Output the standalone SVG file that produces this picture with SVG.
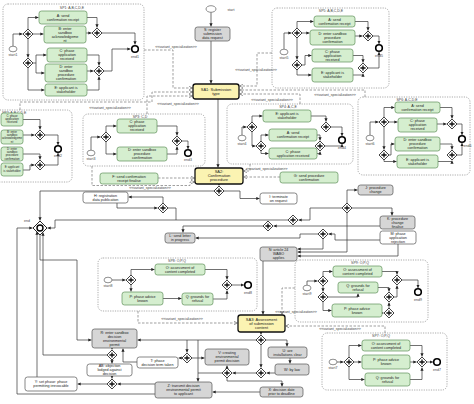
<svg xmlns="http://www.w3.org/2000/svg" width="474" height="404" viewBox="0 0 474 404">
<style>
text{font-family:"Liberation Sans",Arial,sans-serif;font-size:3.7px;fill:#222;text-anchor:middle}
.lb{font-size:3.5px;fill:#444}
.sm{font-size:2.8px}
.g rect{fill:#d5eecf;stroke:#5f8f5a;stroke-width:.7}
.gr rect{fill:#d6d6d6;stroke:#555;stroke-width:.7}
.w rect{fill:#fff;stroke:#555;stroke-width:.7}
.y rect{fill:#fbf3b2;stroke:#111;stroke-width:1.3}
.sp{fill:none;stroke:#888;stroke-width:.7;stroke-dasharray:1.2 1.2}
.fl{fill:none;stroke:#333;stroke-width:.7;marker-end:url(#ah)}
.fn{fill:none;stroke:#333;stroke-width:.7}
.vs{fill:none;stroke:#777;stroke-width:.7;stroke-dasharray:2.5 1.5;marker-end:url(#ao)}
.st{fill:#fff;stroke:#444;stroke-width:.6}
.en{fill:#fff;stroke:#000;stroke-width:1.6}
</style>
<defs>
<marker id="ah" viewBox="0 0 6 6" refX="6" refY="3" markerUnits="userSpaceOnUse" markerWidth="3.2" markerHeight="3.2" orient="auto"><path d="M0,0L6,3L0,6z" fill="#222"/></marker>
<marker id="ao" viewBox="0 0 6 6" refX="6" refY="3" markerUnits="userSpaceOnUse" markerWidth="3.5" markerHeight="3.5" orient="auto"><path d="M0,0L6,3L0,6" fill="none" stroke="#666" stroke-width="1"/></marker>
<g id="gw"><path d="M0,-5L5,0L0,5L-5,0Z" fill="#fff" stroke="#111" stroke-width=".8"/><path d="M-2.6,0H2.6M0,-2.6V2.6" stroke="#111" stroke-width="1.3"/></g>
</defs>
<rect width="474" height="404" fill="#fff"/>

<!-- containers -->
<g id="SP1"><rect class="sp" x="3" y="4" width="141" height="96" rx="5"/><text class="lb" x="72" y="9">SP1: A,B,C,D,E</text></g>
<g id="SP5"><rect class="sp" x="272" y="8" width="117" height="80" rx="5"/><text class="lb" x="331" y="11.8">SP5: A,B,C,D,E</text></g>
<g id="SP2"><rect class="sp" x="-10" y="110" width="82" height="72" rx="5"/><text class="lb" x="2" y="113.8" style="text-anchor:start">SP2: A,B,C,D,E</text></g>
<g id="SP3"><rect class="sp" x="83" y="114" width="122" height="52" rx="5"/><text class="lb" x="140" y="118">SP3: C,D</text></g>
<g id="SP4"><rect class="sp" x="227" y="104" width="126" height="60" rx="5"/><text class="lb" x="288" y="107.8">SP4: A,C,E</text></g>
<g id="SP6"><rect class="sp" x="358" y="97" width="112" height="78" rx="5"/><text class="lb" x="407" y="100.6">SP6: A,C,D,E</text></g>
<g id="SP8"><rect class="sp" x="98" y="258" width="159" height="53" rx="5"/><text class="lb" x="177" y="261.7">SP8: O,P,Q</text></g>
<g id="SP9"><rect class="sp" x="295" y="260" width="133" height="62" rx="5"/><text class="lb" x="360" y="263.8">SP9: O,P,Q</text></g>
<g id="SP7"><rect class="sp" x="322" y="333" width="125" height="57" rx="5"/><text class="lb" x="381" y="336.8">SP7: O,P,Q</text></g>

<!-- connectors -->
<g id="connectors">
<!-- SP1 -->
<path class="fl" d="M13,46.2V34H22.5"/>
<path class="fl" d="M28,29V17.5H38.5"/>
<path class="fl" d="M33,34H43.5"/>
<path class="fl" d="M28,39V57.5"/>
<path class="fl" d="M33,63H36V55H46.5"/>
<path class="fl" d="M36,63V73H44.5"/>
<path class="fl" d="M28,68V90H44.5"/>
<path class="fl" d="M87,17.5H97V27.5"/>
<path class="fl" d="M86,33H91.5"/>
<path class="fl" d="M87,55H99V65.5"/>
<path class="fl" d="M87,71H93.5"/>
<path class="fl" d="M87,90H99V76.5"/>
<path class="fl" d="M102,33H135V44.5"/>
<path class="fl" d="M104,71H112V49H130.5"/>
<!-- SP5 -->
<path class="fl" d="M284,49V33H291.5"/>
<path class="fl" d="M297,28V21.5H313.5"/>
<path class="fl" d="M302,33H309.5"/>
<path class="fl" d="M297,38V59.5"/>
<path class="fl" d="M302,65H305V55.5H311.5"/>
<path class="fl" d="M297,70V75H311.5"/>
<path class="fl" d="M355,21.5H368V30.5"/>
<path class="fl" d="M355,36H362.5"/>
<path class="fl" d="M353,55.5H363V62.5"/>
<path class="fl" d="M353,75H363V73.5"/>
<path class="fl" d="M373,36H379V44"/>
<path class="fl" d="M368,68H379V52"/>
<!-- SP2 -->
<path class="fl" d="M23,119.5H40V129.5"/>
<path class="fl" d="M23,135H34.5"/>
<path class="fl" d="M23,154H40V159.5"/>
<path class="fl" d="M23,170H30V165H34.5"/>
<path class="fl" d="M45,135H58V145"/>
<path class="fl" d="M45,165H58V153"/>
<!-- SP3 -->
<path class="fl" d="M91,150.2V137H100.5"/>
<path class="fl" d="M106,132V126H116.5"/>
<path class="fl" d="M106,142V154H116.5"/>
<path class="fl" d="M157,126H177V135.5"/>
<path class="fl" d="M167,154H177V146.5"/>
<path class="fl" d="M182,141H188V149"/>
<!-- SP4 -->
<path class="fl" d="M242,135.2V127H246.5"/>
<path class="fl" d="M252,122V116H262.5"/>
<path class="fl" d="M252,132V146H255.5"/>
<path class="fl" d="M261,141V135H268.5"/>
<path class="fl" d="M261,151V153.5H268.5"/>
<path class="fl" d="M311,116H326V121.5"/>
<path class="fl" d="M317,135H320V140.5"/>
<path class="fl" d="M317,153.5H320V151.5"/>
<path class="fl" d="M331,127H342V136"/>
<path class="fl" d="M325,146H342V144"/>
<!-- SP6 -->
<path class="fl" d="M370,135.2V122H378.5"/>
<path class="fl" d="M384,117V107.5H394.5"/>
<path class="fl" d="M389,122H397.5"/>
<path class="fl" d="M384,127V149.5"/>
<path class="fl" d="M389,155H391V144H394.5"/>
<path class="fl" d="M384,160V161.5H396.5"/>
<path class="fl" d="M440,107.5H452V118.5"/>
<path class="fl" d="M437,124H446.5"/>
<path class="fl" d="M440,144H452V149.5"/>
<path class="fl" d="M438,161.5H452V160.5"/>
<path class="fl" d="M457,124H462V135"/>
<path class="fl" d="M457,155H462V143"/>
<!-- SP8 -->
<path class="fl" d="M112,280H125.5"/>
<path class="fl" d="M131,275V269.5H154.5"/>
<path class="fl" d="M131,285V291.5"/>
<path class="fl" d="M163,298.5H181.5"/>
<path class="fl" d="M213,299H227V290.5"/>
<path class="fl" d="M205,269.5H227V279.5"/>
<path class="fl" d="M232,285H244"/>
<!-- SP9 -->
<path class="fl" d="M307,285.2V281H317.5"/>
<path class="fl" d="M323,276V271.5H332.5"/>
<path class="fl" d="M323,286V291.5"/>
<path class="fl" d="M323,302V310.5H331.5"/>
<path class="fl" d="M328,297H358V293.5"/>
<path class="fl" d="M382,271.5H397V274.5"/>
<path class="fl" d="M378,287.5H389V291.5"/>
<path class="fl" d="M382,313H383.5"/>
<path class="fl" d="M389,308V302.5"/>
<path class="fl" d="M394,297H397V285.5"/>
<path class="fl" d="M402,280H418V288"/>
<!-- SP7 -->
<path class="fl" d="M337,362H343.5"/>
<path class="fl" d="M349,357V345.5H361.5"/>
<path class="fl" d="M354,362H361.5"/>
<path class="fl" d="M349,367V379.5H364.5"/>
<path class="fl" d="M410,345.5H422V356.5"/>
<path class="fl" d="M410,362H416.5"/>
<path class="fl" d="M410,379.5H422V367.5"/>
<path class="fl" d="M427,362H433"/>
<!-- main flow -->
<path class="fl" d="M211,12.4V26.5"/>
<path class="fl" d="M211,41V83.5"/>
<path class="fl" d="M218,99V167.5"/>
<path class="fl" d="M219,184V185.5"/>
<path class="fl" d="M214,191H40V220.5"/>
<path class="fl" d="M224,191H240V198.5H259.5"/>
<path class="fl" d="M163,203V197H128.5"/>
<path class="fl" d="M117,203V208H157.5"/>
<path class="fn" d="M168,208H176V220"/>
<path class="fl" d="M288,220H55V228H47.5"/>
<path class="fl" d="M342,208H310V220H298.5"/>
<path class="fl" d="M347,203V190H357.5"/>
<path class="fl" d="M352,208H392V215.5"/>
<path class="fl" d="M380,226H273.5"/>
<path class="fl" d="M263,226H183V232.5"/>
<path class="fl" d="M380,240H335V234H328.5"/>
<path class="fl" d="M318,234H300V238H195.5"/>
<path class="fl" d="M323,239V249H297.5"/>
<path class="fl" d="M347,213V252H297.5"/>
<path class="fl" d="M398,244V256H297.5"/>
<path class="fl" d="M263,261V314.5"/>
<path class="fl" d="M261,332V334.5"/>
<path class="fl" d="M256,340H137.5"/>
<path class="fl" d="M198,340V381.5"/>
<path class="fl" d="M187,340V352.5"/>
<path class="fl" d="M182,358H178.5"/>
<path class="fl" d="M192,358H204.5"/>
<path class="fl" d="M266,340H287V346.5"/>
<path class="fl" d="M290,358V363.5"/>
<path class="fl" d="M275,373H266.5"/>
<path class="fl" d="M261,345V367.5"/>
<path class="fl" d="M256,373H232.5"/>
<path class="fl" d="M227,368V365.5"/>
<path class="fl" d="M227,378V381H282V386.5"/>
<path class="fn" d="M222,373H198"/>
<path class="fl" d="M260,392H212.5"/>
<path class="fl" d="M155,384H117.5"/>
<path class="fl" d="M107,384H77.5"/>
<path class="fl" d="M112,376V378.5"/>
<path class="fl" d="M112,360V363.5"/>
<path class="fl" d="M112,348V349.5"/>
<path class="fl" d="M137,362H123V348.5"/>
<path class="fl" d="M107,355H43V232.5"/>
<path class="fl" d="M37,377V231.5"/>
<path class="fl" d="M40,235V260H77V340H91.5"/>
<path class="fl" d="M155,394H17V228H32.5"/>
<!-- variant specialization -->
<path class="vs" d="M144,50H173V88H192.5"/>
<path class="vs" d="M272,53H257V86H239.5"/>
<path class="vs" d="M365,97V90H239.5"/>
<path class="vs" d="M300,104V94H239.5"/>
<path class="vs" d="M20,110V102H152V92H192.5"/>
<path class="vs" d="M147,114V96H192.5"/>
<path class="vs" d="M92,166V185.5H190V182H194.5"/>
<path class="vs" d="M250,164V171H243.5"/>
<path class="vs" d="M158,178H194.5"/>
<path class="vs" d="M280,177H243.5"/>
<path class="vs" d="M138,311V323H237.5"/>
<path class="vs" d="M295,288H282V314.5"/>
<path class="vs" d="M385,333V326H285.5"/>
<g class="lb">
<text class="lb" x="176" y="47.5">&lt;&lt;variant_specialization&gt;&gt;</text>
<text class="lb" x="256" y="71">&lt;&lt;variant_specialization&gt;&gt;</text>
<text class="lb" x="335" y="95.5">&lt;&lt;variant_specialization&gt;&gt;</text>
<text class="lb" x="272" y="101">&lt;&lt;variant_specialization&gt;&gt;</text>
<text class="lb" x="110" y="108.5">&lt;&lt;variant_specialization&gt;&gt;</text>
<text class="lb" x="178" y="105">&lt;&lt;variant_specialization&gt;&gt;</text>
<text class="lb" x="150" y="189.3">&lt;&lt;variant_specialization&gt;&gt;</text>
<text class="lb" x="246" y="169.5" style="text-anchor:start">&lt;&lt;variant_specialization&gt;&gt;</text>
<text class="lb" x="182" y="319.5">&lt;&lt;variant_specialization&gt;&gt;</text>
<text class="lb" x="296" y="313">&lt;&lt;variant_specialization&gt;&gt;</text>
<text class="lb" x="340" y="329.5">&lt;&lt;variant_specialization&gt;&gt;</text>
</g>
</g>

<!-- events -->
<g id="start"><ellipse class="st" cx="211" cy="9" rx="5" ry="3.3"/><text class="lb" x="231" y="10.5">start</text></g>
<g id="start1"><ellipse class="st" cx="13" cy="49" rx="4" ry="2.8"/><text class="lb" x="13" y="55.5">start1</text></g>
<g id="end1"><circle class="en" cx="135" cy="49" r="3.3"/><text class="lb" x="135" y="57.5">end1</text></g>
<g id="start5"><ellipse class="st" cx="284" cy="52" rx="4" ry="2.8"/><text class="lb" x="284" y="58.5">start5</text></g>
<g id="end5"><circle class="en" cx="379" cy="48" r="3.3"/><text class="lb" x="379" y="56.5">end5</text></g>
<g id="end2"><circle class="en" cx="58" cy="149" r="3.3"/><text class="lb" x="58" y="157">end2</text></g>
<g id="start3"><ellipse class="st" cx="91" cy="153" rx="4" ry="2.8"/><text class="lb" x="91" y="159.5">start3</text></g>
<g id="end3"><circle class="en" cx="188" cy="153" r="3.3"/><text class="lb" x="188" y="161">end3</text></g>
<g id="start4"><ellipse class="st" cx="242" cy="138" rx="4" ry="2.8"/><text class="lb" x="242" y="144.5">start4</text></g>
<g id="end4"><circle class="en" cx="342" cy="140" r="3.3"/><text class="lb" x="342" y="148.5">end4</text></g>
<g id="start6"><ellipse class="st" cx="370" cy="138" rx="4" ry="2.8"/><text class="lb" x="370" y="144.5">start6</text></g>
<g id="end6"><circle class="en" cx="462" cy="139" r="3.3"/><text class="lb" x="467.5" y="147">end6</text></g>
<g id="start8"><ellipse class="st" cx="108" cy="280" rx="4" ry="2.8"/><text class="lb" x="108" y="286.5">start8</text></g>
<g id="end8"><circle class="en" cx="248" cy="285" r="3.3"/><text class="lb" x="248" y="293.5">end8</text></g>
<g id="start9"><ellipse class="st" cx="307" cy="288" rx="4" ry="2.8"/><text class="lb" x="307" y="294.5">start9</text></g>
<g id="end9"><circle class="en" cx="418" cy="292" r="3.3"/><text class="lb" x="418" y="300.5">end9</text></g>
<g id="start7"><ellipse class="st" cx="333" cy="362" rx="4" ry="2.8"/><text class="lb" x="333" y="368.5">start7</text></g>
<g id="end7"><circle class="en" cx="437" cy="362" r="3.3"/><text class="lb" x="437" y="370.5">end7</text></g>

<!-- gateways -->
<g id="gateways">
<use href="#gw" x="28" y="34"/><use href="#gw" x="28" y="63"/><use href="#gw" x="97" y="33"/><use href="#gw" x="99" y="71"/>
<use href="#gw" x="297" y="33"/><use href="#gw" x="297" y="65"/><use href="#gw" x="368" y="36"/><use href="#gw" x="363" y="68"/>
<use href="#gw" x="40" y="135"/><use href="#gw" x="40" y="165"/>
<use href="#gw" x="106" y="137"/><use href="#gw" x="177" y="141"/>
<use href="#gw" x="252" y="127"/><use href="#gw" x="261" y="146"/><use href="#gw" x="326" y="127"/><use href="#gw" x="320" y="146"/>
<use href="#gw" x="384" y="122"/><use href="#gw" x="384" y="155"/><use href="#gw" x="452" y="124"/><use href="#gw" x="452" y="155"/>
<use href="#gw" x="131" y="280"/><use href="#gw" x="227" y="285"/>
<use href="#gw" x="323" y="281"/><use href="#gw" x="323" y="297"/><use href="#gw" x="397" y="280"/><use href="#gw" x="389" y="297"/><use href="#gw" x="389" y="313"/>
<use href="#gw" x="349" y="362"/><use href="#gw" x="422" y="362"/>
<use href="#gw" x="219" y="191"/><use href="#gw" x="163" y="208"/><use href="#gw" x="293" y="220"/><use href="#gw" x="347" y="208"/><use href="#gw" x="268" y="226"/><use href="#gw" x="323" y="234"/>
<use href="#gw" x="261" y="340"/><use href="#gw" x="187" y="358"/><use href="#gw" x="261" y="373"/><use href="#gw" x="227" y="373"/>
<use href="#gw" x="112" y="355"/><use href="#gw" x="112" y="384"/>
</g>
<g id="endgw"><path d="M40,221L47,228L40,235L33,228Z" fill="#fff" stroke="#111" stroke-width=".9"/><circle cx="40" cy="228" r="3" fill="none" stroke="#000" stroke-width="1.4"/><text class="lb" x="27" y="222">end</text></g>

<!-- SP1 tasks -->
<g id="A1" class="g"><rect x="39" y="11" width="48" height="13" rx="2.5"/><text x="63" y="16.8">A: send<tspan x="63" dy="4">confirmation receipt</tspan></text></g>
<g id="B1" class="g"><rect x="44" y="26" width="42" height="17" rx="2.5"/><text x="65" y="29.9">B: enter<tspan x="65" dy="4">sandbox</tspan><tspan x="65" dy="4">acknowledgeme</tspan><tspan x="65" dy="4">nt</tspan></text></g>
<g id="C1" class="g"><rect x="47" y="48" width="40" height="14" rx="2.5"/><text x="67" y="52.4">C: phase<tspan x="67" dy="4">application</tspan><tspan x="67" dy="4">received</tspan></text></g>
<g id="D1" class="g"><rect x="45" y="64" width="42" height="18" rx="2.5"/><text x="66" y="68.4">D: enter<tspan x="66" dy="4">sandbox</tspan><tspan x="66" dy="4">procedure</tspan><tspan x="66" dy="4">confirmation</tspan></text></g>
<g id="E1" class="g"><rect x="45" y="84" width="42" height="12" rx="2.5"/><text x="66" y="89.4">E: applicant is<tspan x="66" dy="4">stakeholder</tspan></text></g>
<!-- SP5 tasks -->
<g id="A5" class="g"><rect x="314" y="16" width="41" height="11" rx="2.5"/><text x="334.5" y="20.9">A: send<tspan x="334.5" dy="4">confirmation receipt</tspan></text></g>
<g id="D5" class="g"><rect x="310" y="30" width="45" height="15" rx="2.5"/><text x="332.5" y="34.9">D: enter sandbox<tspan x="332.5" dy="4">procedure</tspan><tspan x="332.5" dy="4">confirmation</tspan></text></g>
<g id="C5" class="g"><rect x="312" y="49" width="41" height="13" rx="2.5"/><text x="332.5" y="52.9">C: phase<tspan x="332.5" dy="4">application</tspan><tspan x="332.5" dy="4">received</tspan></text></g>
<g id="E5" class="g"><rect x="312" y="68" width="41" height="14" rx="2.5"/><text x="332.5" y="74.4">E: applicant is<tspan x="332.5" dy="4">stakeholder</tspan></text></g>
<!-- SP2 tasks -->
<g id="C2" class="g"><rect x="1" y="113" width="22" height="13" rx="2.5"/><text class="sm" x="12" y="116.5">C: phase<tspan x="12" dy="3.3">application</tspan><tspan x="12" dy="3.3">received</tspan></text></g>
<g id="B2" class="g"><rect x="1" y="130" width="22" height="14" rx="2.5"/><text class="sm" x="12" y="133">B: enter<tspan x="12" dy="3.2">sandbox</tspan><tspan x="12" dy="3.2">acknowledgeme</tspan><tspan x="12" dy="3.2">nt</tspan></text></g>
<g id="D2" class="g"><rect x="1" y="147" width="22" height="14" rx="2.5"/><text class="sm" x="12" y="150">D: enter<tspan x="12" dy="3.2">sandbox</tspan><tspan x="12" dy="3.2">procedure</tspan><tspan x="12" dy="3.2">confirmation</tspan></text></g>
<g id="E2" class="g"><rect x="1" y="163" width="22" height="13" rx="2.5"/><text class="sm" x="12" y="168.4">E: applicant<tspan x="12" dy="3.3">is stakeholder</tspan></text></g>
<!-- SP3 tasks -->
<g id="C3" class="g"><rect x="117" y="119" width="40" height="14" rx="2.5"/><text x="137" y="123.4">C: phase<tspan x="137" dy="4">application</tspan><tspan x="137" dy="4">received</tspan></text></g>
<g id="D3" class="g"><rect x="117" y="147" width="50" height="14" rx="2.5"/><text x="142" y="151.4">D: enter sandbox<tspan x="142" dy="4">procedure</tspan><tspan x="142" dy="4">confirmation</tspan></text></g>
<!-- SP4 tasks -->
<g id="E4" class="g"><rect x="263" y="110" width="48" height="12" rx="2.5"/><text x="287" y="115.4">E: applicant is<tspan x="287" dy="4">stakeholder</tspan></text></g>
<g id="A4" class="g"><rect x="269" y="129" width="48" height="12" rx="2.5"/><text x="293" y="134.4">A: send<tspan x="293" dy="4">confirmation receipt</tspan></text></g>
<g id="C4" class="g"><rect x="269" y="148" width="48" height="11" rx="2.5"/><text x="293" y="152.9">C: phase<tspan x="293" dy="4">application received</tspan></text></g>
<!-- SP6 tasks -->
<g id="A6" class="g"><rect x="395" y="102" width="45" height="11" rx="2.5"/><text x="417.5" y="106.9">A: send<tspan x="417.5" dy="4">confirmation receipt</tspan></text></g>
<g id="C6" class="g"><rect x="398" y="118" width="39" height="14" rx="2.5"/><text x="417.5" y="122.4">C: phase<tspan x="417.5" dy="4">application</tspan><tspan x="417.5" dy="4">received</tspan></text></g>
<g id="D6" class="g"><rect x="395" y="137" width="45" height="14" rx="2.5"/><text x="417.5" y="141.4">D: enter sandbox<tspan x="417.5" dy="4">procedure</tspan><tspan x="417.5" dy="4">confirmation</tspan></text></g>
<g id="E6" class="g"><rect x="397" y="155" width="41" height="13" rx="2.5"/><text x="417.5" y="160.9">E: applicant is<tspan x="417.5" dy="4">stakeholder</tspan></text></g>
<!-- SP8 tasks -->
<g id="O8" class="g"><rect x="155" y="264" width="50" height="11" rx="2.5"/><text x="180" y="268.9">O: assessment of<tspan x="180" dy="4">content completed</tspan></text></g>
<g id="P8" class="g"><rect x="122" y="292" width="41" height="13" rx="2.5"/><text x="142.5" y="297.9">P: phase advice<tspan x="142.5" dy="4">known</tspan></text></g>
<g id="Q8" class="g"><rect x="182" y="293" width="31" height="12" rx="2.5"/><text x="197.5" y="298.4">Q: grounds for<tspan x="197.5" dy="4">refusal</tspan></text></g>
<!-- SP9 tasks -->
<g id="O9" class="g"><rect x="333" y="266" width="49" height="11" rx="2.5"/><text x="357.5" y="270.9">O: assessment of<tspan x="357.5" dy="4">content completed</tspan></text></g>
<g id="Q9" class="g"><rect x="338" y="282" width="40" height="11" rx="2.5"/><text x="358" y="286.9">Q: grounds for<tspan x="358" dy="4">refusal</tspan></text></g>
<g id="P9" class="g"><rect x="332" y="304" width="50" height="13" rx="2.5"/><text x="357" y="309.9">P: phase advice<tspan x="357" dy="4">known</tspan></text></g>
<!-- SP7 tasks -->
<g id="O7" class="g"><rect x="362" y="340" width="48" height="11" rx="2.5"/><text x="386" y="344.9">O: assessment of<tspan x="386" dy="4">content completed</tspan></text></g>
<g id="P7" class="g"><rect x="362" y="355" width="48" height="14" rx="2.5"/><text x="386" y="361.4">P: phase advice<tspan x="386" dy="4">known</tspan></text></g>
<g id="Q7" class="g"><rect x="365" y="373" width="45" height="13" rx="2.5"/><text x="387.5" y="378.9">Q: grounds for<tspan x="387.5" dy="4">refusal</tspan></text></g>

<!-- F, G -->
<g id="F" class="g"><rect x="100" y="173" width="58" height="11" rx="2.5"/><text x="129" y="177.9">F: send confirmation<tspan x="129" dy="4">receipt finalise</tspan></text></g>
<g id="G" class="g"><rect x="280" y="172" width="58" height="11" rx="2.5"/><text x="309" y="176.9">G: send procedure<tspan x="309" dy="4">confirmation</tspan></text></g>

<!-- SA boxes -->
<g id="SA1" class="y"><rect x="193" y="84" width="46" height="15" rx="2.5"/><text x="216" y="91" style="font-size:4px">SA1: Submission<tspan x="216" dy="4">type</tspan></text></g>
<g id="SA2" class="y"><rect x="195" y="168" width="48" height="16" rx="2.5"/><text x="219" y="173.4" style="font-size:4px">SA2:<tspan x="219" dy="4">Confirmation</tspan><tspan x="219" dy="4">procedure</tspan></text></g>
<g id="SA3" class="y"><rect x="238" y="315" width="47" height="17" rx="2.5"/><text x="261.5" y="320.9" style="font-size:4px">SA3: Assessment<tspan x="261.5" dy="4">of submission</tspan><tspan x="261.5" dy="4">content</tspan></text></g>

<!-- other activities -->
<g id="S" class="gr"><rect x="195" y="27" width="35" height="14" rx="2.5"/><text x="212.5" y="31.4">S: register<tspan x="212.5" dy="4">submission</tspan><tspan x="212.5" dy="4">data request</tspan></text></g>
<g id="H" class="w"><rect x="83" y="192" width="45" height="11" rx="2.5"/><text x="105.5" y="196.9">H: registration<tspan x="105.5" dy="4">data publication</tspan></text></g>
<g id="I" class="w"><rect x="260" y="193" width="37" height="11" rx="2.5"/><text x="278.5" y="197.9">I: terminate<tspan x="278.5" dy="4">on request</tspan></text></g>
<g id="J" class="gr"><rect x="358" y="185" width="35" height="10" rx="2.5"/><text x="375.5" y="189.4">J: procedure<tspan x="375.5" dy="4">change</tspan></text></g>
<g id="K" class="gr"><rect x="380" y="216" width="35" height="13" rx="2.5"/><text x="397.5" y="219.9">K: procedure<tspan x="397.5" dy="4">change</tspan><tspan x="397.5" dy="4">finalise</tspan></text></g>
<g id="M" class="w"><rect x="380" y="231" width="36" height="13" rx="2.5"/><text x="398" y="234.9">M: phase<tspan x="398" dy="4">application</tspan><tspan x="398" dy="4">rejection</tspan></text></g>
<g id="L" class="gr"><rect x="165" y="233" width="30" height="10" rx="2.5"/><text x="180" y="237.4">L: send letter<tspan x="180" dy="4">in progress</tspan></text></g>
<g id="N" class="gr"><rect x="260" y="247" width="37" height="14" rx="2.5"/><text x="278.5" y="251.4">N: article 24<tspan x="278.5" dy="4">WABO</tspan><tspan x="278.5" dy="4">applies</tspan></text></g>
<g id="R" class="gr"><rect x="92" y="329" width="45" height="19" rx="2.5"/><text x="114.5" y="333.9">R: enter sandbox<tspan x="114.5" dy="4">decision</tspan><tspan x="114.5" dy="4">environmental</tspan><tspan x="114.5" dy="4">permit</tspan></text></g>
<g id="T" class="w"><rect x="137" y="357" width="41" height="11" rx="2.5"/><text x="157.5" y="361.9">T: phase<tspan x="157.5" dy="4">decision term taken</tspan></text></g>
<g id="AB" class="w"><rect x="87" y="364" width="45" height="12" rx="2.5"/><text x="109.5" y="367.4">AB: objection<tspan x="109.5" dy="3.9">lodged against</tspan><tspan x="109.5" dy="3.9">decision</tspan></text></g>
<g id="Y" class="w"><rect x="25" y="377" width="52" height="14" rx="2.5"/><text x="51" y="383.4">Y: set phase: phase<tspan x="51" dy="4">permitting irrevocable</tspan></text></g>
<g id="V" class="gr"><rect x="205" y="349" width="44" height="16" rx="2.5"/><text x="227" y="354.4">V: creating<tspan x="227" dy="4">environmental</tspan><tspan x="227" dy="4">permit decision</tspan></text></g>
<g id="U" class="gr"><rect x="268" y="347" width="39" height="11" rx="2.5"/><text x="287.5" y="351.9">U: are<tspan x="287.5" dy="4">installations clear</tspan></text></g>
<g id="W" class="gr"><rect x="275" y="364" width="34" height="11" rx="2.5"/><text x="292" y="370.8">W: by law</text></g>
<g id="X" class="gr"><rect x="260" y="387" width="43" height="10" rx="2.5"/><text x="281.5" y="391.3">X: decision date<tspan x="281.5" dy="4">prior to deadline</tspan></text></g>
<g id="Z" class="gr"><rect x="155" y="382" width="57" height="16" rx="2.5"/><text x="183.5" y="387.4">Z: transmit decision<tspan x="183.5" dy="4">environmental permit</tspan><tspan x="183.5" dy="4">to applicant</tspan></text></g>
</svg>
